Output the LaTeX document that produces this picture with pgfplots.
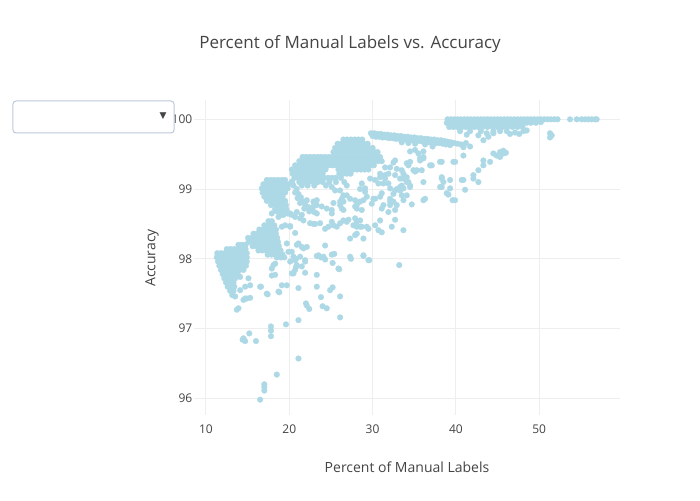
\documentclass[border=0pt]{standalone}
\usepackage{pgfplots}
\pgfplotsset{compat=1.18}
\usepackage{fontspec}
\setmainfont{Open Sans}
\newfontfamily\symfont{DejaVu Sans}
\definecolor{lb}{RGB}{173,216,230}
\definecolor{gridc}{RGB}{238,238,238}
\definecolor{txt}{RGB}{68,68,68}
\definecolor{ddc}{RGB}{190,200,217}
\begin{document}
\begin{tikzpicture}
\useasboundingbox (-194pt,-85pt) rectangle (506pt,415pt);
\begin{axis}[
  at={(0pt,0pt)}, anchor=south west,
  scale only axis, width=426pt, height=315pt,
  xmin=8.56, xmax=59.7, ymin=95.76, ymax=100.277,
  xtick={10,20,30,40,50}, ytick={96,97,98,99,100},
  grid=major, major grid style={draw=gridc, line width=1pt},
  axis line style={draw=none}, tick style={draw=none},
  /pgf/number format/assume math mode=true,
  ticklabel style={font=\fontsize{12}{14}\selectfont, text=txt, inner sep=0pt},
  xticklabel style={anchor=north, yshift=-9.5pt},
  yticklabel style={anchor=east, xshift=-1.5pt},
]
\addplot[only marks, color=lb, mark=*, mark size=2.9pt, mark options={draw=lb, fill=lb, line width=0.2pt}] table {
x y
13.9 98.20
14.35 98.20
14.75 98.20
12.5 98.14
12.95 98.14
13.4 98.14
13.85 98.14
14.3 98.14
14.75 98.14
11.35 98.08
11.8 98.08
12.25 98.08
12.7 98.08
13.15 98.08
13.6 98.08
14.05 98.08
14.5 98.08
14.9 98.08
11.3 98.02
11.75 98.02
12.2 98.02
12.65 98.02
13.1 98.02
13.55 98.02
14.0 98.02
14.45 98.02
14.9 98.02
11.45 97.96
11.9 97.96
12.35 97.96
12.8 97.96
13.25 97.96
13.7 97.96
14.15 97.96
14.6 97.96
14.9 97.96
11.6 97.90
12.05 97.90
12.5 97.90
12.95 97.90
13.4 97.90
13.85 97.90
14.3 97.90
14.8 97.90
11.8 97.84
12.25 97.84
12.7 97.84
13.15 97.84
13.6 97.84
14.05 97.84
14.5 97.84
12.0 97.78
12.45 97.78
12.9 97.78
13.35 97.78
13.8 97.78
12.2 97.72
12.65 97.72
13.1 97.72
13.5 97.72
12.4 97.66
12.85 97.66
13.3 97.66
12.6 97.60
13.05 97.60
13.4 97.60
12.9 97.54
13.3 97.54
13.15 97.48
13.5 97.46
14.1 97.55
14.7 97.60
15.3 97.62
15.1 97.72
14.1 97.74
14.7 97.43
13.9 97.29
13.7 97.27
14.5 97.41
14.9 97.43
15.3 97.44
14.5 96.86
14.7 96.82
15.2 96.93
14.4 96.84
16.0 96.82
17.8 97.03
17.8 96.97
17.8 96.89
19.6 97.06
21.1 97.12
21.1 96.57
18.5 96.34
17.0 96.20
17.0 96.11
17.0 96.16
16.5 95.98
17.5 98.54
17.9 98.54
17.0 98.48
17.45 98.48
17.9 98.48
18.2 98.48
16.4 98.42
16.85 98.42
17.3 98.42
17.75 98.42
18.2 98.42
18.4 98.42
15.7 98.36
16.15 98.36
16.6 98.36
17.05 98.36
17.5 98.36
17.95 98.36
18.4 98.36
15.05 98.30
15.5 98.30
15.95 98.30
16.4 98.30
16.85 98.30
17.3 98.30
17.75 98.30
18.2 98.30
18.55 98.30
15.1 98.24
15.55 98.24
16.0 98.24
16.45 98.24
16.9 98.24
17.35 98.24
17.8 98.24
18.25 98.24
18.65 98.24
15.6 98.18
16.05 98.18
16.5 98.18
16.95 98.18
17.4 98.18
17.85 98.18
18.3 98.18
18.75 98.18
16.3 98.12
16.75 98.12
17.2 98.12
17.65 98.12
18.1 98.12
18.55 98.12
18.95 98.12
17.4 98.06
17.85 98.06
18.3 98.06
18.75 98.06
19.2 98.06
18.5 98.02
19.0 98.02
19.4 98.02
17.3 99.13
17.75 99.13
18.2 99.13
18.65 99.13
19.1 99.13
19.5 99.13
16.9 99.07
17.35 99.07
17.8 99.07
18.25 99.07
18.7 99.07
19.15 99.07
19.6 99.07
20.0 99.07
16.7 99.01
17.15 99.01
17.6 99.01
18.05 99.01
18.5 99.01
18.95 99.01
19.4 99.01
19.8 99.01
16.8 98.95
17.25 98.95
17.7 98.95
18.15 98.95
18.6 98.95
19.05 98.95
19.5 98.95
17.0 98.89
17.45 98.89
17.9 98.89
18.35 98.89
18.8 98.89
19.2 98.89
17.3 98.83
17.75 98.83
18.2 98.83
18.65 98.83
19.1 98.83
19.5 98.83
17.8 98.77
18.25 98.77
18.7 98.77
19.15 98.77
19.6 98.77
18.3 98.71
18.75 98.71
19.2 98.71
19.65 98.71
18.9 98.65
19.4 98.65
19.8 98.65
20.5 99.05
20.9 99.00
20.7 98.95
21.1 98.93
21.4 98.88
21.0 98.87
21.6 98.82
21.9 98.78
22.2 98.74
22.6 98.70
23.0 98.67
23.3 98.65
21.3 98.80
21.8 98.72
22.4 98.68
20.3 99.10
17.9 98.65
18.5 98.68
19.1 98.63
20.1 98.65
20.7 98.60
21.5 98.63
18.7 98.60
19.3 98.63
19.9 98.65
20.3 98.63
20.9 98.67
20.1 98.47
19.1 98.46
19.5 98.48
20.1 98.46
20.7 98.37
21.1 98.22
21.5 98.17
19.7 98.22
20.3 98.10
20.9 98.20
19.9 98.10
20.5 98.03
20.7 97.98
20.9 97.91
20.5 97.79
18.3 97.93
17.9 97.86
18.3 97.77
21.3 98.03
21.5 97.89
20.7 97.84
16.5 97.60
17.3 97.50
18.7 97.53
19.1 97.62
19.7 97.62
17.4 97.49
18.8 97.52
21.1 97.58
16.6 97.60
17.9 97.76
18.1 97.91
20.3 97.79
20.8 97.88
21.9 97.96
21.9 97.80
23.3 97.77
23.3 97.60
23.8 97.45
22.0 97.36
22.1 97.33
22.4 97.28
24.0 97.32
24.5 97.29
24.9 97.55
25.2 97.59
26.1 97.46
26.1 97.16
26.0 97.85
23.3 98.04
23.8 98.02
24.3 97.99
25.2 97.94
25.4 98.07
27.4 98.00
28.9 98.04
29.6 97.98
33.2 97.91
20.1 97.96
20.8 98.00
26.5 99.71
26.95 99.71
27.4 99.71
27.85 99.71
28.3 99.71
28.75 99.71
25.8 99.65
26.25 99.65
26.7 99.65
27.15 99.65
27.6 99.65
28.05 99.65
28.5 99.65
28.95 99.65
29.4 99.65
25.5 99.59
25.95 99.59
26.4 99.59
26.85 99.59
27.3 99.59
27.75 99.59
28.2 99.59
28.65 99.59
29.1 99.59
29.55 99.59
30.0 99.59
25.3 99.53
25.75 99.53
26.2 99.53
26.65 99.53
27.1 99.53
27.55 99.53
28.0 99.53
28.45 99.53
28.9 99.53
29.35 99.53
29.8 99.53
30.25 99.53
30.6 99.53
21.6 99.46
22.05 99.46
22.5 99.46
22.95 99.46
23.4 99.46
23.85 99.46
24.3 99.46
24.75 99.46
25.2 99.46
25.65 99.46
26.1 99.46
26.55 99.46
27.0 99.46
27.45 99.46
27.9 99.46
28.35 99.46
28.8 99.46
29.25 99.46
29.7 99.46
30.15 99.46
30.6 99.46
30.9 99.46
21.2 99.40
21.65 99.40
22.1 99.40
22.55 99.40
23.0 99.40
23.45 99.40
23.9 99.40
24.35 99.40
24.8 99.40
25.25 99.40
25.7 99.40
26.15 99.40
26.6 99.40
27.05 99.40
27.5 99.40
27.95 99.40
28.4 99.40
28.85 99.40
29.3 99.40
29.75 99.40
30.2 99.40
30.65 99.40
31.1 99.40
20.7 99.34
21.15 99.34
21.6 99.34
22.05 99.34
22.5 99.34
22.95 99.34
23.4 99.34
23.85 99.34
24.3 99.34
24.75 99.34
25.2 99.34
25.65 99.34
26.1 99.34
26.55 99.34
27.0 99.34
27.45 99.34
27.9 99.34
28.35 99.34
28.8 99.34
29.25 99.34
29.7 99.34
30.15 99.34
20.3 99.28
20.75 99.28
21.2 99.28
21.65 99.28
22.1 99.28
22.55 99.28
23.0 99.28
23.45 99.28
23.9 99.28
24.35 99.28
25.9 99.28
26.35 99.28
26.8 99.28
27.25 99.28
27.7 99.28
28.15 99.28
28.6 99.28
29.05 99.28
29.5 99.28
20.4 99.22
20.85 99.22
21.3 99.22
21.75 99.22
22.2 99.22
22.65 99.22
23.1 99.22
23.55 99.22
24.0 99.22
26.0 99.22
26.45 99.22
26.9 99.22
27.35 99.22
20.6 99.16
21.05 99.16
21.5 99.16
21.95 99.16
22.4 99.16
22.85 99.16
23.3 99.16
23.75 99.16
24.2 99.16
24.65 99.16
25.1 99.16
25.55 99.16
26.2 99.16
20.3 99.10
21.2 99.10
21.7 99.10
22.3 99.10
22.9 99.10
23.4 99.10
24.0 99.10
24.8 99.10
25.6 99.10
26.6 99.10
21.5 99.05
22.2 99.05
23.0 99.05
24.4 99.05
26.9 99.05
29.8 99.80
30.2 99.80
30.6 99.79
31.0 99.79
31.4 99.78
31.8 99.78
32.2 99.77
32.6 99.77
33.0 99.76
33.4 99.76
33.8 99.75
34.2 99.75
34.6 99.74
35.0 99.74
35.4 99.73
35.8 99.73
36.2 99.72
36.6 99.72
37.0 99.71
37.4 99.71
37.8 99.70
38.2 99.70
38.6 99.69
39.0 99.68
39.4 99.67
39.8 99.66
40.2 99.65
40.6 99.64
30.0 99.76
30.4 99.75
30.8 99.75
31.2 99.74
31.6 99.74
32.0 99.73
32.4 99.73
32.8 99.72
33.2 99.72
33.6 99.71
34.0 99.71
34.4 99.70
34.8 99.70
35.2 99.69
35.6 99.69
36.0 99.68
36.4 99.68
36.8 99.67
37.2 99.67
37.6 99.66
38.0 99.66
38.4 99.65
38.8 99.64
33.5 99.67
34.3 99.66
35.1 99.65
36.3 99.64
37.2 99.61
39.3 99.63
40.9 99.62
41.7 99.61
41.2 99.66
40.9 99.60
43.3 99.70
43.9 99.75
44.5 99.80
34.5 99.54
35.1 99.56
35.5 99.51
36.1 99.54
39.0 100.0
39.4 100.0
39.8 100.0
40.2 100.0
40.6 100.0
41.0 100.0
41.4 100.0
41.8 100.0
42.2 100.0
42.6 100.0
43.0 100.0
43.4 100.0
43.8 100.0
44.2 100.0
44.6 100.0
45.0 100.0
45.4 100.0
45.8 100.0
46.2 100.0
46.6 100.0
47.0 100.0
47.4 100.0
47.8 100.0
48.2 100.0
48.6 100.0
49.0 100.0
49.4 100.0
49.8 100.0
50.2 100.0
50.6 100.0
51.0 100.0
51.4 100.0
51.8 100.0
52.2 100.0
53.7 100.0
54.5 100.0
55.1 100.0
55.5 100.0
55.9 100.0
56.3 100.0
56.7 100.0
56.9 100.0
38.9 99.95
39.3 99.95
39.7 99.95
40.1 99.95
40.5 99.95
40.9 99.95
41.3 99.95
41.7 99.95
42.1 99.95
42.5 99.95
42.9 99.95
43.3 99.95
43.7 99.95
44.1 99.95
44.5 99.95
44.9 99.95
45.3 99.95
45.7 99.95
46.1 99.95
46.5 99.95
46.9 99.95
47.3 99.95
47.7 99.95
48.1 99.95
48.5 99.95
49.0 99.95
49.6 99.95
50.2 99.96
39.2 99.89
39.7 99.89
40.2 99.89
40.7 99.89
41.2 99.89
41.7 99.89
42.2 99.89
42.7 99.89
43.2 99.89
43.8 99.89
44.4 99.89
45.0 99.89
45.6 99.89
46.2 99.89
46.8 99.89
47.4 99.89
48.0 99.89
40.5 99.83
41.7 99.83
43.0 99.83
43.7 99.80
44.5 99.83
45.3 99.83
46.1 99.83
47.1 99.81
48.1 99.83
48.5 99.84
41.3 99.78
42.7 99.77
46.5 99.79
47.6 99.79
51.3 99.80
51.3 99.74
51.5 99.77
45.3 99.53
45.7 99.51
44.9 99.48
44.5 99.51
45.3 99.46
45.7 99.55
46.0 99.52
44.1 99.39
43.3 99.41
43.3 99.34
42.7 99.27
42.1 99.20
42.1 99.15
42.7 99.10
41.1 98.99
40.7 99.13
39.3 99.13
38.3 99.15
39.3 99.01
39.1 98.92
39.6 98.84
38.3 99.03
40.9 99.48
39.9 99.39
38.3 99.39
37.1 99.34
36.1 99.44
35.7 99.41
34.5 99.39
34.1 99.37
34.9 99.27
35.3 99.27
33.3 99.15
33.3 99.03
34.1 99.10
34.5 99.03
33.7 99.01
33.5 98.91
36.1 99.10
34.7 98.78
36.1 98.84
36.3 98.86
36.9 99.34
35.9 99.27
38.9 98.94
34.1 98.91
33.3 98.98
34.3 99.10
33.7 99.15
32.7 99.20
31.9 99.22
31.5 99.20
30.9 99.22
31.3 99.08
30.7 99.08
30.3 98.86
31.3 98.77
31.1 98.72
32.1 98.77
32.9 98.77
32.7 98.70
33.7 98.41
30.9 98.55
30.7 98.41
31.9 98.67
32.5 98.82
29.3 98.46
29.5 98.43
28.7 98.46
28.1 98.46
27.7 98.48
27.9 98.34
27.3 98.29
28.1 98.36
28.5 98.55
28.1 98.53
28.7 98.70
28.1 98.72
28.5 98.82
28.9 98.84
29.3 98.89
29.1 98.96
30.1 98.86
30.9 98.89
31.1 98.94
26.5 98.55
26.9 98.53
25.7 98.46
25.3 98.48
24.7 98.46
24.3 98.43
23.1 98.50
22.9 98.50
25.1 98.65
26.5 98.70
26.3 98.72
26.1 98.82
26.3 98.86
26.5 98.91
25.5 98.98
25.1 99.03
23.3 98.84
22.9 98.82
22.1 98.84
22.3 98.74
21.3 98.58
21.7 98.55
22.1 98.17
21.7 98.15
24.3 98.19
23.5 98.05
25.1 98.06
25.9 97.86
27.3 98.03
28.9 98.05
29.5 97.98
21.9 97.98
24.1 98.03
22.5 98.51
23.7 98.51
25.1 98.53
26.1 98.51
27.1 98.56
27.9 98.58
28.9 98.29
28.5 98.46
30.3 98.48
31.1 98.38
32.3 98.46
32.7 98.56
32.1 98.82
33.7 98.84
23.3 98.77
23.9 98.75
25.1 98.70
27.9 98.75
24.5 98.72
25.3 98.80
26.1 98.77
22.9 98.75
35.7 99.44
36.1 99.46
34.3 99.34
38.1 99.39
39.7 99.39
35.1 99.25
32.7 99.41
33.5 99.27
32.9 99.29
33.7 99.22
34.1 99.17
38.3 99.17
38.5 99.10
38.1 99.03
40.9 99.13
39.9 98.84
34.5 99.05
33.5 99.05
32.9 99.00
32.7 98.98
31.9 99.08
32.1 99.01
31.5 99.15
30.9 99.17
32.5 98.93
32.1 98.86
29.9 98.79
27.3 98.86
27.9 98.84
26.1 98.98
26.9 98.91
28.5 99.00
28.7 99.08
29.1 99.01
29.7 99.15
30.3 99.13
26.5 98.82
28.1 98.77
31.5 99.31
32.1 99.31
32.5 99.38
};
\end{axis}
\node[font=\fontsize{17}{20}\selectfont, text=txt] at (156pt,371pt) {Percent of Manual Labels vs. Accuracy};
\node[font=\fontsize{14}{17}\selectfont, text=txt] at (213pt,-52pt) {Percent of Manual Labels};
\node[font=\fontsize{14}{17}\selectfont, text=txt, rotate=90] at (-42pt,157pt) {Accuracy};
\draw[draw=ddc, fill=white, line width=1pt, rounded corners=3pt] (-181pt,282pt) rectangle (-20pt,314pt);
\node[font=\symfont\fontsize{9}{10}\selectfont, text=txt] at (-31pt,299pt) {▼};
\end{tikzpicture}
\end{document}
